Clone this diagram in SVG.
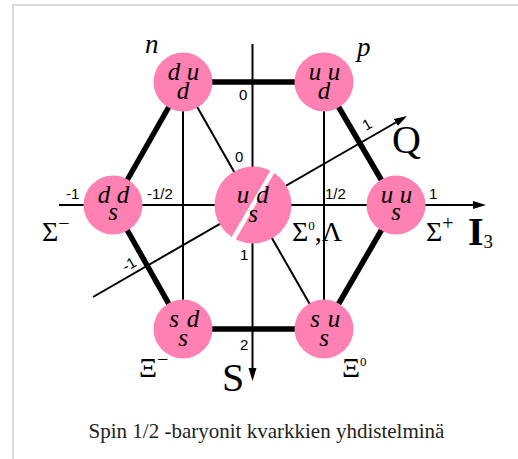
<svg xmlns="http://www.w3.org/2000/svg" width="518" height="459" viewBox="0 0 518 459">
<style>
.frame{stroke:#d0d0d0;stroke-width:1.5;fill:none}
.thick{stroke:#000;stroke-width:5.5;fill:none}
.thin{stroke:#000;stroke-width:2;fill:none}
.ball{fill:#FF80B2}
.q{font-family:"Liberation Serif",serif;font-style:italic;font-size:25px;text-anchor:middle}
.num{font-family:"Liberation Sans",sans-serif;font-size:15px}
.big{font-family:"Liberation Serif",serif;font-size:28px}
.axis{font-family:"Liberation Serif",serif;font-size:40px}
.name{font-family:"Liberation Serif",serif;font-style:italic;font-size:27px}
.cap{font-family:"Liberation Serif",serif;font-size:21px;fill:#222;text-anchor:middle}
</style>
<defs>
<marker id="arr" markerUnits="userSpaceOnUse" markerWidth="13" markerHeight="9" refX="6" refY="4.5" orient="auto">
<path d="M0,0.5 L13,4.5 L0,8.5 z" fill="#000"/>
</marker>
</defs>
<rect width="518" height="459" fill="#fff"/>
<path class="frame" d="M13,459 V5 H518"/>
<g id="connectors">
<line class="thick" x1="183" y1="82" x2="324" y2="82"/>
<line class="thick" x1="183" y1="82" x2="113" y2="205"/>
<line class="thick" x1="113" y1="205" x2="183" y2="329"/>
<line class="thick" x1="183" y1="329" x2="324" y2="329"/>
<line class="thick" x1="324" y1="329" x2="396" y2="205"/>
<line class="thick" x1="396" y1="205" x2="324" y2="82"/>
<line class="thin" x1="183" y1="82" x2="183" y2="329"/>
<line class="thin" x1="324" y1="82" x2="324" y2="329"/>
<line class="thin" x1="183" y1="82" x2="253" y2="205"/>
<line class="thin" x1="253" y1="205" x2="324" y2="329"/>
<line class="thin" x1="252.5" y1="44" x2="252.5" y2="374" marker-end="url(#arr)"/>
<line class="thin" x1="59" y1="205" x2="479" y2="205" marker-end="url(#arr)"/>
<line class="thin" x1="93" y1="297" x2="401" y2="119.5" marker-end="url(#arr)"/>
</g>
<g id="n">
<circle class="ball" cx="183" cy="82" r="29.5"/>
<text class="q" x="174" y="80">d</text><text class="q" x="193" y="80">u</text><text class="q" x="183" y="99">d</text>
</g>
<g id="p">
<circle class="ball" cx="324" cy="82" r="29.5"/>
<text class="q" x="315" y="80">u</text><text class="q" x="334" y="80">u</text><text class="q" x="324" y="99">d</text>
</g>
<g id="sigma-minus">
<circle class="ball" cx="113" cy="205" r="29.5"/>
<text class="q" x="104" y="203">d</text><text class="q" x="123" y="203">d</text><text class="q" x="113" y="220">s</text>
</g>
<g id="sigma0-lambda">
<circle class="ball" cx="253" cy="205" r="38.5"/>
<line x1="272.5" y1="171.5" x2="233.5" y2="238.5" stroke="#fff" stroke-width="4.5"/>
<text class="q" x="243" y="203">u</text><text class="q" x="262.5" y="203">d</text><text class="q" x="253" y="222">s</text>
</g>
<g id="sigma-plus">
<circle class="ball" cx="396" cy="205" r="29.5"/>
<text class="q" x="387" y="203">u</text><text class="q" x="406" y="203">u</text><text class="q" x="396" y="220">s</text>
</g>
<g id="xi-minus">
<circle class="ball" cx="183" cy="329" r="29.5"/>
<text class="q" x="174" y="327">s</text><text class="q" x="193" y="327">d</text><text class="q" x="183" y="346">s</text>
</g>
<g id="xi0">
<circle class="ball" cx="324" cy="329" r="29.5"/>
<text class="q" x="315" y="327">s</text><text class="q" x="334" y="327">u</text><text class="q" x="324" y="346">s</text>
</g>
<g id="labels">
<text class="name" x="145" y="53">n</text>
<text class="name" x="357" y="56">p</text>
<text class="num" x="239" y="100">0</text>
<text class="num" x="235" y="162">0</text>
<text class="num" x="66" y="199">-1</text>
<text class="num" x="147" y="199">-1/2</text>
<text class="num" x="325" y="199">1/2</text>
<text class="num" x="429" y="199">1</text>
<text class="num" x="240" y="260">1</text>
<text class="num" x="240" y="350">2</text>
<text class="num" transform="translate(366,131) rotate(-30)">1</text>
<text class="num" transform="translate(126,272) rotate(-30)">-1</text>
<text class="axis" x="392" y="153" font-size="36">Q</text>
<text class="axis" x="222" y="391">S</text>
<text class="axis" x="468" y="245" font-weight="bold" font-size="36">I<tspan font-size="19" font-weight="normal" dy="3">3</tspan></text>
<text class="big" x="42" y="241">Σ<tspan font-size="20" dy="-11">−</tspan></text>
<text class="big" x="292" y="241">Σ<tspan font-size="13" dy="-11">0</tspan><tspan dy="11">,Λ</tspan></text>
<text class="big" x="426" y="241">Σ<tspan font-size="20" dy="-11">+</tspan></text>
<text class="big" x="139" y="377">Ξ<tspan font-size="20" dy="-11">−</tspan></text>
<text class="big" x="342" y="377">Ξ<tspan font-size="13" dy="-11">0</tspan></text>
</g>
<text class="cap" x="266.5" y="438">Spin 1/2 -baryonit kvarkkien yhdistelminä</text>
</svg>
